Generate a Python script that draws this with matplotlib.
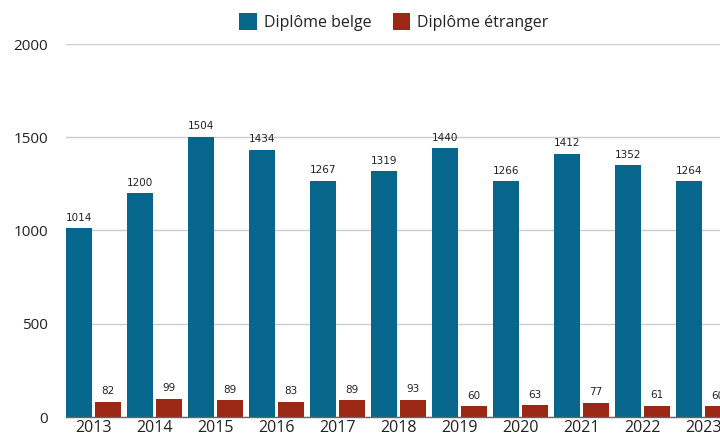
import matplotlib
matplotlib.use("Agg")
import matplotlib.pyplot as plt
import numpy as np
from matplotlib.patches import Patch

years = ["2013", "2014", "2015", "2016", "2017", "2018", "2019", "2020", "2021", "2022", "2023"]
belge = [1014, 1200, 1504, 1434, 1267, 1319, 1440, 1266, 1412, 1352, 1264]
etranger = [82, 99, 89, 83, 89, 93, 60, 63, 77, 61, 60]
series_names = ["Diplôme belge", "Diplôme étranger"]
yticks = [0, 500, 1000, 1500, 2000]

c_blue = "#07668B"
c_red = "#9A2814"
tick_font = "Open Sans"

fig = plt.figure(figsize=(7.2, 4.36), dpi=100)
W, H = 720, 436
left_px, right_px, top_px, bot_px = 66, 770, 44, 417
ax = fig.add_axes([left_px / W, 1 - bot_px / H, (right_px - left_px) / W, (bot_px - top_px) / H])

x = np.arange(len(years))
bw = 0.43
off = 0.235
b1 = ax.bar(x - off, belge, bw, color=c_blue, zorder=3)
b2 = ax.bar(x + off, etranger, bw, color=c_red, zorder=3)

for rect, v in zip(b1, belge):
    ax.text(rect.get_x() + rect.get_width() / 2, v + 28, str(v), ha="center", va="bottom",
            fontsize=7.5, color="#222222", family="DejaVu Sans")
for rect, v in zip(b2, etranger):
    ax.text(rect.get_x() + rect.get_width() / 2, v + 28, str(v), ha="center", va="bottom",
            fontsize=7.5, color="#222222", family="DejaVu Sans")

spacing = 61.0
ax.set_xlim(-(93.5 - left_px) / spacing, -(93.5 - left_px) / spacing + (right_px - left_px) / spacing)
ax.set_ylim(0, 2000)
ax.set_yticks(yticks)
ax.set_yticklabels([str(t) for t in yticks], family=tick_font, fontsize=11, color="#222222")
ax.set_xticks(x)
ax.set_xticklabels(years, family=tick_font, fontsize=11.5, color="#222222")
ax.tick_params(axis="both", length=0)
ax.tick_params(axis="y", pad=13)
ax.tick_params(axis="x", pad=2)
ax.grid(axis="y", color="#cccccc", linewidth=1, zorder=0)
for s in ["top", "right", "left"]:
    ax.spines[s].set_visible(False)
ax.spines["bottom"].set_color("#666666")
ax.spines["bottom"].set_linewidth(1)
ax.spines["bottom"].set_zorder(4)

handles = [Patch(facecolor=c_blue, label=series_names[0]), Patch(facecolor=c_red, label=series_names[1])]
fig.legend(handles=handles, loc="center", bbox_to_anchor=(394 / W, 1 - 22 / H), ncol=2, frameon=False,
           prop={"family": tick_font, "size": 11.5}, handlelength=1.1, handleheight=1.2,
           handletextpad=0.45, columnspacing=1.3, labelcolor="#222222")

fig.savefig("out.png", dpi=100)
